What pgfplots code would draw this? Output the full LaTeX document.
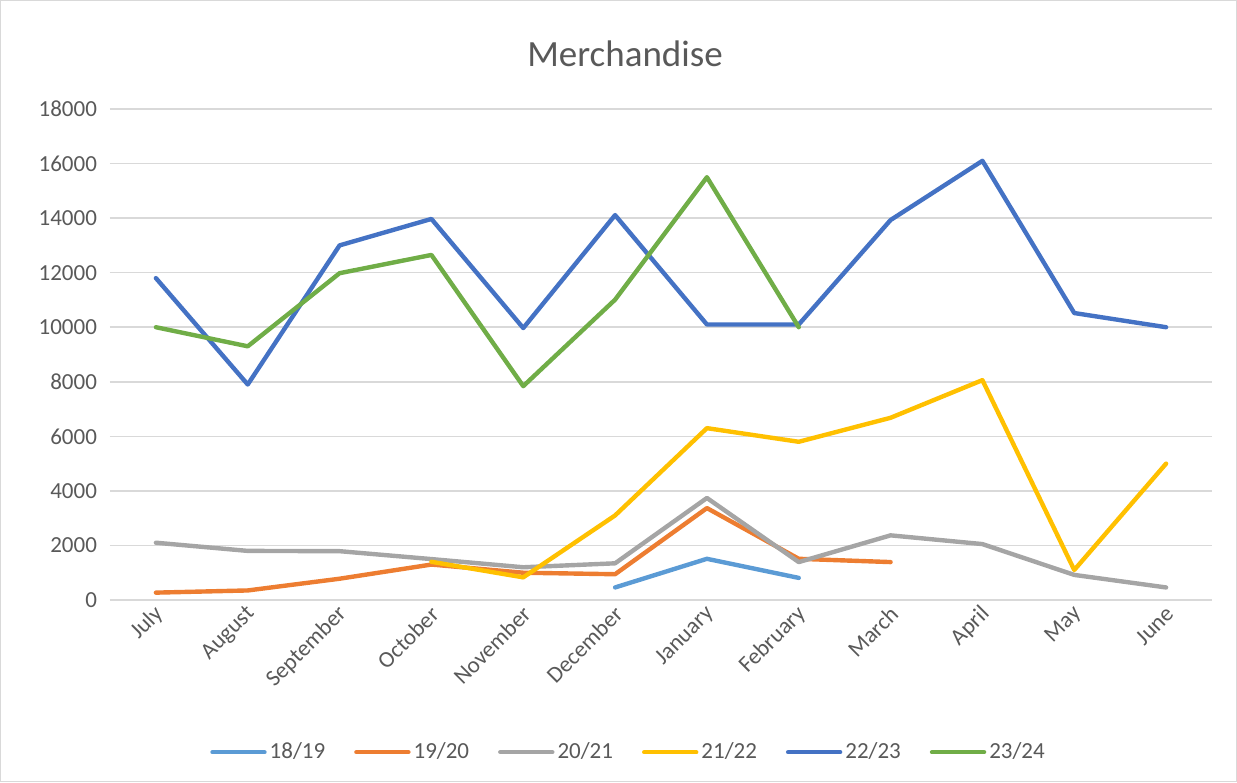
\documentclass[border=0pt]{standalone}
\usepackage{pgfplots}
\pgfplotsset{compat=1.18}
\usepackage{fontspec}
\setmainfont{Carlito}
\definecolor{txt}{HTML}{595959}
\definecolor{gridc}{HTML}{D9D9D9}
\definecolor{cA}{HTML}{5B9BD5}
\definecolor{cB}{HTML}{ED7D31}
\definecolor{cC}{HTML}{A5A5A5}
\definecolor{cD}{HTML}{FFC000}
\definecolor{cE}{HTML}{4472C4}
\definecolor{cF}{HTML}{70AD47}
\begin{document}
\begin{tikzpicture}
\draw[gridc, line width=0.6pt] (0.3pt,0.3pt) rectangle (618.2pt,390.7pt);
\node[text=txt, font=\fontsize{18.5}{20}\selectfont] at (312.5pt,364pt) {Merchandise};
\begin{axis}[
  at={(55pt,91pt)}, anchor=south west,
  scale only axis, width=551pt, height=245.5pt,
  xmin=-0.5, xmax=11.5, ymin=0, ymax=18000,
  xtick={0,...,11},
  xticklabels={July,August,September,October,November,December,January,February,March,April,May,June},
  ytick={0,2000,...,18000},
  /pgf/number format/assume math mode=true,
  /pgf/number format/set thousands separator={},
  scaled y ticks=false,
  ymajorgrids, grid style={gridc, line width=0.8pt},
  axis line style={draw=none},
  major tick length=0pt,
  tick label style={text=txt, font=\fontsize{11.5}{13}\selectfont},
  xticklabel style={rotate=45, anchor=east, yshift=-5pt, xshift=1pt},
  yticklabel style={xshift=-3pt},
  every axis plot/.append style={line width=2.2pt, line join=round, line cap=round, mark=none},
  legend columns=6,
  legend style={draw=none, at={(0.471,-0.31)}, anchor=center, font=\fontsize{11.5}{13}\selectfont, text=txt,
    inner sep=0pt,
    /tikz/every even column/.append style={column sep=13pt},
    nodes={inner sep=1.5pt}},
  legend image code/.code={\draw[#1, line cap=round] (0pt,0pt) -- (26pt,0pt);},
]
\addplot[cA] coordinates {(5,460) (6,1510) (7,810)};
\addlegendentry{18/19}
\addplot[cB] coordinates {(0,270) (1,350) (2,780) (3,1300) (4,1000) (5,945) (6,3370) (7,1510) (8,1390)};
\addlegendentry{19/20}
\addplot[cC] coordinates {(0,2100) (1,1800) (2,1790) (3,1500) (4,1200) (5,1345) (6,3740) (7,1390) (8,2370) (9,2050) (10,920) (11,460)};
\addlegendentry{20/21}
\addplot[cD] coordinates {(3,1400) (4,830) (5,3100) (6,6300) (7,5800) (8,6680) (9,8060) (10,1100) (11,5000)};
\addlegendentry{21/22}
\addplot[cE] coordinates {(0,11800) (1,7900) (2,13000) (3,13970) (4,9970) (5,14110) (6,10100) (7,10100) (8,13930) (9,16100) (10,10520) (11,10000)};
\addlegendentry{22/23}
\addplot[cF] coordinates {(0,10000) (1,9300) (2,11980) (3,12650) (4,7840) (5,11010) (6,15500) (7,10000)};
\addlegendentry{23/24}
\end{axis}
\end{tikzpicture}
\end{document}
